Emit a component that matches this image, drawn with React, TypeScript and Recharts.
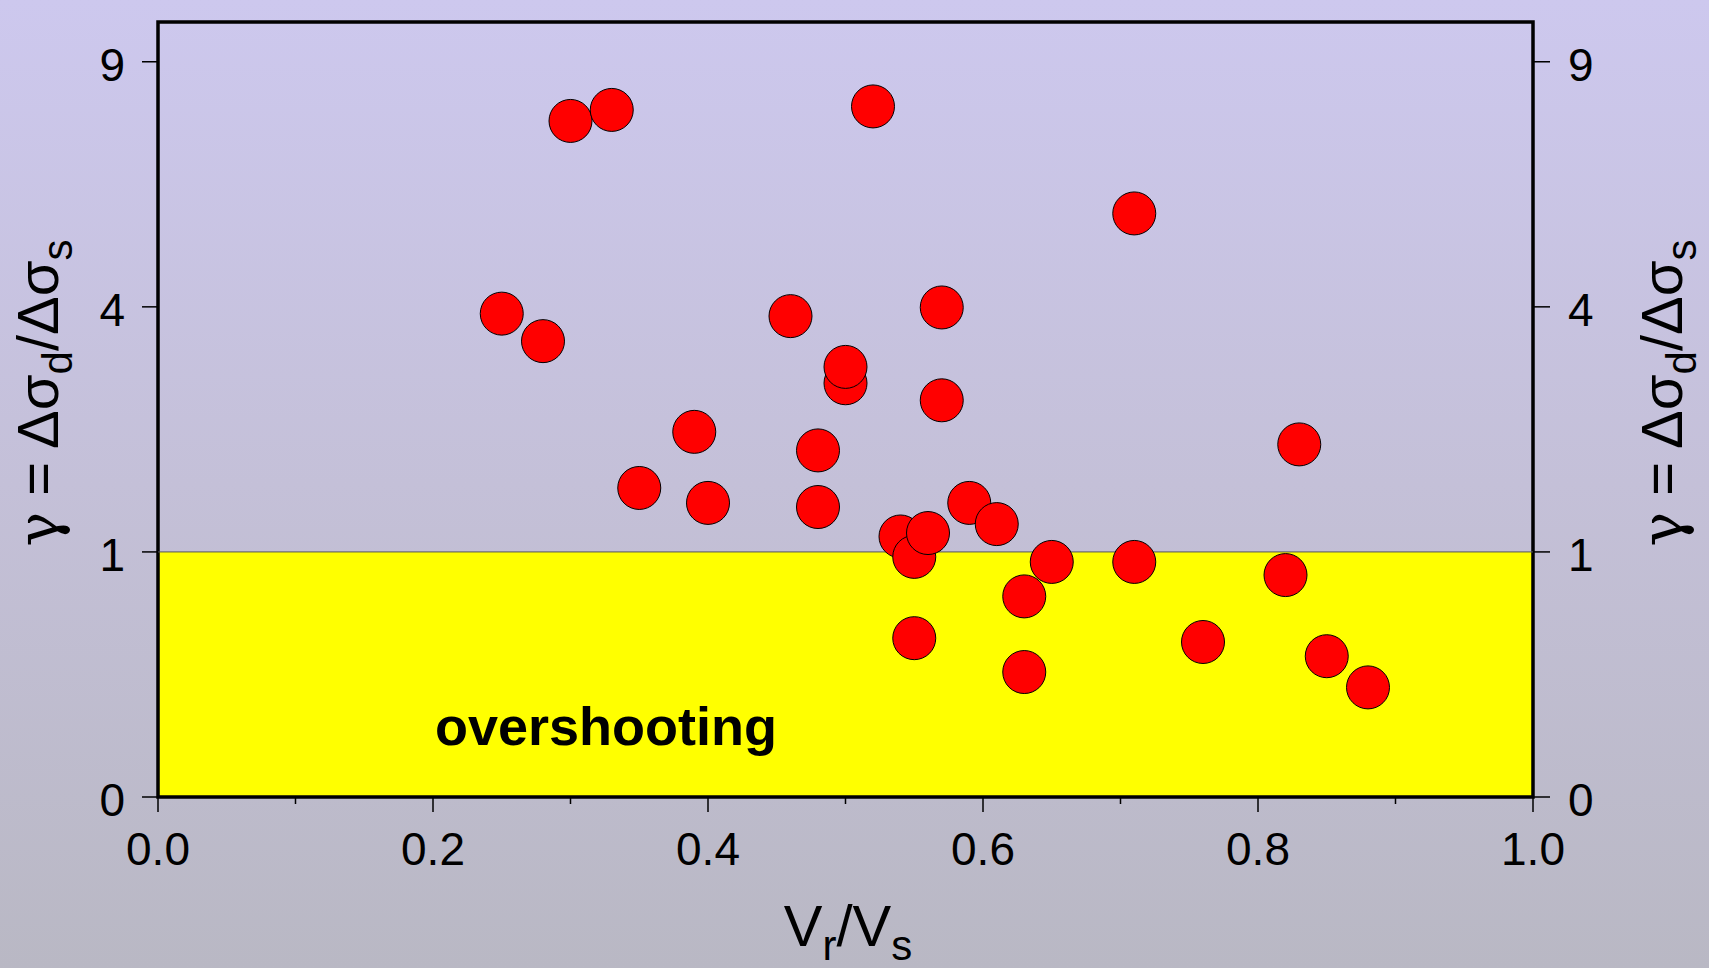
import React from 'react';
import { ScatterChart, Scatter, XAxis, YAxis, ReferenceArea, ReferenceLine } from 'recharts';

// Vr/Vs vs gamma = dSigma_d / dSigma_s (sqrt y-scale)
const vrVs = [0.25, 0.28, 0.30, 0.33, 0.35, 0.39, 0.40, 0.46, 0.48, 0.48, 0.50, 0.50, 0.52, 0.54, 0.55, 0.56, 0.55, 0.57, 0.57, 0.59, 0.61, 0.63, 0.63, 0.65, 0.71, 0.71, 0.76, 0.82, 0.83, 0.85, 0.88];
const gammaVals = [3.89, 3.46, 7.61, 7.86, 1.59, 2.22, 1.44, 3.85, 2.00, 1.40, 2.85, 3.08, 7.94, 1.13, 0.96, 1.16, 0.42, 3.99, 2.62, 1.44, 1.24, 0.67, 0.26, 0.92, 5.67, 0.92, 0.40, 0.82, 2.07, 0.33, 0.20];

const xTicks = [0, 0.1, 0.2, 0.3, 0.4, 0.5, 0.6, 0.7, 0.8, 0.9, 1.0];
const yTicks = [0, 1, 4, 9];
const regionLabel = 'overshooting';

const data = vrVs.map((x, i) => ({ x, g: gammaVals[i] }));

const FONT = '"Liberation Sans", Arial, sans-serif';
const isMajor = (v: number) => Math.round(v * 10) % 2 === 0;

const BottomTick = ({ x, y, payload }: any) => {
  const major = isMajor(payload.value);
  return (
    <g>
      <line x1={x} x2={x} y1={y} y2={y + (major ? 15 : 7)} stroke="#000" strokeWidth={1.5} />
      {major && (
        <text x={x} y={y + 68} textAnchor="middle" fontSize={46} fontFamily={FONT} fill="#000">
          {payload.value.toFixed(1)}
        </text>
      )}
    </g>
  );
};

const TopTick = ({ x, y, payload }: any) => {
  const major = isMajor(payload.value);
  return <line x1={x} x2={x} y1={y} y2={y - (major ? 15 : 7)} stroke="#000" strokeWidth={1.5} />;
};

const LeftTick = ({ x, y, payload }: any) => (
  <g>
    <line x1={x - 16} x2={x} y1={y} y2={y} stroke="#000" strokeWidth={1.5} />
    <text x={x - 33} y={y + 19} textAnchor="end" fontSize={46} fontFamily={FONT} fill="#000">
      {payload.value}
    </text>
  </g>
);

const RightTick = ({ x, y, payload }: any) => (
  <g>
    <line x1={x} x2={x + 17} y1={y} y2={y} stroke="#000" strokeWidth={1.5} />
    <text x={x + 35} y={y + 19} textAnchor="start" fontSize={46} fontFamily={FONT} fill="#000">
      {payload.value}
    </text>
  </g>
);

const GammaTitle = ({ cx, cy }: { cx: number; cy: number }) => (
  <text
    x={cx}
    y={cy}
    transform={`rotate(-90 ${cx} ${cy})`}
    textAnchor="middle"
    fontSize={58}
    fontFamily={FONT}
    fill="#000"
  >
    <tspan fontFamily='"DejaVu Serif", serif'>γ</tspan>
    <tspan> = Δσ</tspan>
    <tspan fontSize={42} dy={14}>d</tspan>
    <tspan dy={-14}>/Δσ</tspan>
    <tspan fontSize={42} dy={14}>s</tspan>
  </text>
);

const XTitle = () => (
  <text x={848} y={946} textAnchor="middle" fontSize={58} fontFamily={FONT} fill="#000">
    V
    <tspan fontSize={42} dy={14}>r</tspan>
    <tspan dy={-14}>/V</tspan>
    <tspan fontSize={42} dy={14}>s</tspan>
  </text>
);

const RegionText = ({ viewBox }: any) => (
  <text
    x={viewBox.x + 277}
    y={viewBox.y + viewBox.height - 52}
    fontSize={54}
    fontWeight="bold"
    fontFamily={FONT}
    fill="#000"
  >
    {regionLabel}
  </text>
);

const Dot = ({ cx, cy }: any) => (
  <circle cx={cx} cy={cy} r={21.5} fill="#ff0000" stroke="#000" strokeWidth={1} />
);

export default function App() {
  return (
    <div
      style={{
        position: 'absolute',
        left: 0,
        top: 0,
        width: 1709,
        height: 968,
        background: 'linear-gradient(to bottom, #cdc8ee 0%, #c4c0d8 50%, #b9b8c4 100%)',
        fontFamily: FONT,
      }}
    >
      <ScatterChart width={1709} height={968} margin={{ top: 21, right: 0, bottom: 0, left: 0 }}>
        <XAxis
          dataKey="x"
          type="number"
          domain={[0, 1]}
          ticks={xTicks}
          interval={0}
          height={171}
          axisLine={false}
          tickLine={false}
          tickSize={0}
          tickMargin={0}
          tick={<BottomTick />}
          label={<XTitle />}
        />
        <XAxis
          xAxisId="top"
          orientation="top"
          type="number"
          domain={[0, 1]}
          allowDataOverflow
          ticks={xTicks}
          interval={0}
          height={1}
          axisLine={false}
          tickLine={false}
          tickSize={0}
          tickMargin={0}
          tick={<TopTick />}
        />
        <YAxis
          dataKey="g"
          type="number"
          scale="sqrt"
          domain={[0, 10]}
          allowDataOverflow
          ticks={yTicks}
          interval={0}
          width={158}
          axisLine={false}
          tickLine={false}
          tickSize={0}
          tickMargin={0}
          tick={<LeftTick />}
          label={<GammaTitle cx={58} cy={393} />}
        />
        <YAxis
          yAxisId="right"
          orientation="right"
          type="number"
          scale="sqrt"
          domain={[0, 10]}
          allowDataOverflow
          ticks={yTicks}
          interval={0}
          width={176}
          axisLine={false}
          tickLine={false}
          tickSize={0}
          tickMargin={0}
          tick={<RightTick />}
          label={<GammaTitle cx={1682} cy={393} />}
        />
        <ReferenceArea x1={0} x2={1} y1={0} y2={1} fill="#ffff00" fillOpacity={1} stroke="none" label={<RegionText />} />
        <ReferenceLine y={1} stroke="#555" strokeWidth={1} />
        <Scatter data={data} isAnimationActive={false} shape={<Dot />} />
        <ReferenceArea x1={0} x2={1} y1={0} y2={10} fill="none" stroke="#000" strokeWidth={3.5} />
      </ScatterChart>
    </div>
  );
}
